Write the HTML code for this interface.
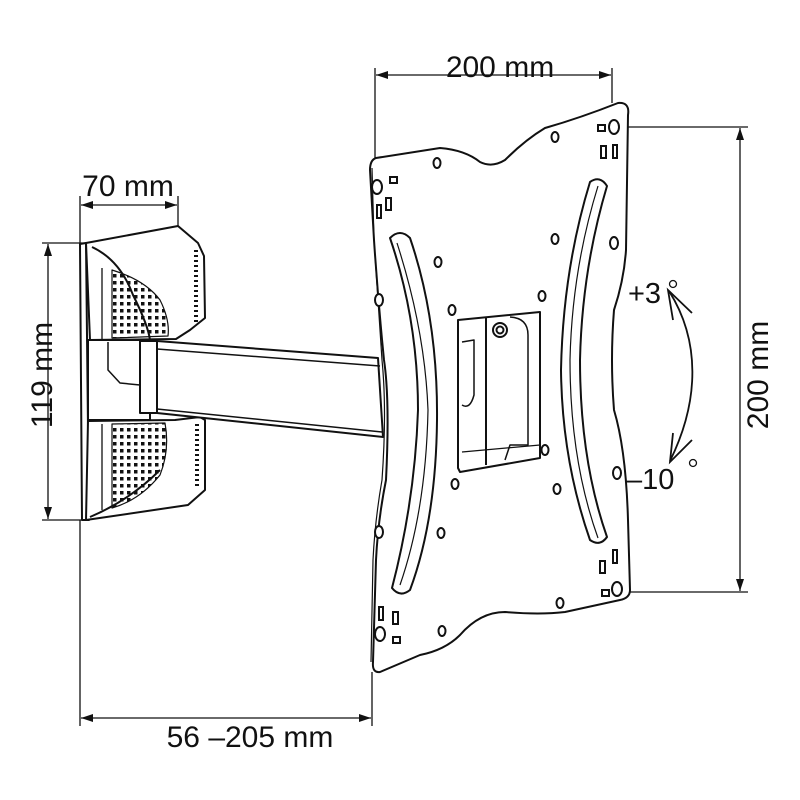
<!DOCTYPE html>
<html><head><style>
html,body{margin:0;padding:0;background:#fff;}
svg{display:block;}
text{font-family:"Liberation Sans",Arial,sans-serif;fill:#111;}
</style></head><body>
<svg width="800" height="800" viewBox="0 0 800 800" xmlns="http://www.w3.org/2000/svg">
<defs>
<pattern id="dots" width="7" height="7" patternUnits="userSpaceOnUse">
<rect x="1" y="1" width="3.5" height="3.5" fill="#111"/>
</pattern>
<marker id="ah" viewBox="0 0 12 10" refX="12" refY="5" markerWidth="12" markerHeight="10" orient="auto-start-reverse" markerUnits="userSpaceOnUse">
<path d="M0,1 L12,5 L0,9 z" fill="#111"/>
</marker>
</defs>
<g stroke="#111" stroke-width="1.3" fill="none">
<line x1="375" y1="68" x2="375" y2="160"/>
<line x1="612" y1="68" x2="612" y2="103"/>
<line x1="376" y1="75" x2="611" y2="75" marker-start="url(#ah)" marker-end="url(#ah)"/>
<line x1="80" y1="196" x2="80" y2="243"/>
<line x1="178" y1="196" x2="178" y2="226"/>
<line x1="81" y1="205" x2="177" y2="205" marker-start="url(#ah)" marker-end="url(#ah)"/>
<line x1="42" y1="243" x2="86" y2="243"/>
<line x1="42" y1="520" x2="86" y2="520"/>
<line x1="48" y1="244" x2="48" y2="519" marker-start="url(#ah)" marker-end="url(#ah)"/>
<line x1="622" y1="127" x2="748" y2="127"/>
<line x1="622" y1="592" x2="748" y2="592"/>
<line x1="740" y1="128" x2="740" y2="591" marker-start="url(#ah)" marker-end="url(#ah)"/>
<line x1="80" y1="520" x2="80" y2="726"/>
<line x1="372" y1="672" x2="372" y2="726"/>
<line x1="81" y1="718" x2="371" y2="718" marker-start="url(#ah)" marker-end="url(#ah)"/>
<g stroke-width="1.8">
<path d="M669,291 C700,340 700,400 670,461"/>
<path d="M673,320 L668,290 L692,313"/>
<path d="M673,433 L670,462 L692,440"/>
</g>
</g>

<g stroke="#111" stroke-width="2" fill="#fff" stroke-linejoin="round">
<path d="M80,244 L86,243 L89,520 L82,520 Z"/>
<path d="M86,243 L178,226 L198,243 L204,256 L205,318 L190,330 L176,339 L90,340 Z"/>
<path d="M92,247 Q120,260 133,295 Q148,325 150,340" fill="none"/>
<path d="M112,270 Q145,280 160,300 Q170,320 168,336 L112,338 Z" fill="url(#dots)" stroke-width="1.2"/>
<line x1="102" y1="268" x2="102" y2="340" stroke-width="1.3"/>
<path d="M196,250 L196,325" stroke-width="4" stroke-dasharray="2 3"/>
<path d="M88,421 L175,420 L200,417 L205,420 L205,490 L188,505 L86,520 Z"/>
<path d="M112,424 L165,423 Q170,450 160,475 Q140,500 112,508 Z" fill="url(#dots)" stroke-width="1.2"/>
<line x1="102" y1="424" x2="102" y2="510" stroke-width="1.3"/>
<path d="M197,424 L197,488" stroke-width="4" stroke-dasharray="2 3"/>
<path d="M90,517 Q130,500 160,470" fill="none"/>
<path d="M88,340 L150,340 L150,420 L88,420 Z"/>
<path d="M108,342 L108,370 L120,383 L140,385" fill="none" stroke-width="1.5"/>
<path d="M140,341 L157,341 L378,358 L383,437 L157,413 L140,413 Z"/>
<line x1="140" y1="341" x2="140" y2="413"/>
<line x1="157" y1="341" x2="157" y2="413"/>
<line x1="157" y1="349" x2="380" y2="366" stroke-width="1.5"/>
<line x1="157" y1="409" x2="382" y2="432" stroke-width="1.5"/>
</g>

<g stroke="#111" stroke-width="2" fill="#fff" stroke-linejoin="round">
<path d="M376,158 L440,148 Q465,150 480,162 Q492,168 505,160 Q525,140 545,128 Q580,118 618,103 Q630,102 628,115 L626,250 Q624,280 614,310 Q610,360 614,410 Q626,450 628,520 L630,590 Q630,598 620,600 L565,612 Q540,615 505,612 Q480,612 460,635 Q445,650 420,655 L380,672 Q372,673 373,662 L376,560 Q378,520 386,480 Q390,400 384,360 Q378,300 374,240 L370,170 Q370,160 376,158 Z"/>
<path d="M372,168 L374,240 Q378,300 382,360 Q387,410 382,480 Q375,520 373,560 L371,662" fill="none" stroke-width="1.2"/>
<path d="M390,238 Q400,228 410,238 Q438,320 437,420 Q436,520 410,590 Q400,598 392,588 Q415,500 418,410 Q418,320 390,238 Z"/>
<path d="M397,243 Q425,330 428,410 Q426,510 400,585" fill="none" stroke-width="1.2"/>
<path d="M590,182 Q600,175 607,186 Q582,270 580,360 Q580,460 607,537 Q600,547 590,540 Q562,460 561,370 Q563,270 590,182 Z"/>
<path d="M598,186 Q572,270 570,360 Q570,460 598,538" fill="none" stroke-width="1.2"/>
<path d="M458,320 L540,312 L540,458 L460,472 L458,468 Z"/>
<path d="M486,318 L486,465" fill="none"/>
<path d="M510,317 Q528,318 528,335 L528,445 L510,445 L505,460" fill="none" stroke-width="1.5"/>
<path d="M462,342 L474,340 L474,395 Q470,410 462,405" fill="none" stroke-width="1.5"/>
<line x1="462" y1="452" x2="540" y2="445" stroke-width="1.3"/>
<circle cx="500" cy="330" r="7"/>
<circle cx="500" cy="330" r="3.5"/>
</g>
<g stroke="#111" stroke-width="2" fill="#fff">
<ellipse cx="377" cy="187" rx="5" ry="7"/>
<ellipse cx="614" cy="127" rx="5" ry="7"/>
<ellipse cx="380" cy="634" rx="5" ry="7"/>
<ellipse cx="617" cy="589" rx="5" ry="7"/>
<ellipse cx="379" cy="300" rx="4" ry="6"/>
<ellipse cx="379" cy="532" rx="4" ry="6"/>
<ellipse cx="614" cy="243" rx="4" ry="6"/>
<ellipse cx="617" cy="473" rx="4" ry="6"/>
<ellipse cx="437" cy="163" rx="3.5" ry="5"/>
<ellipse cx="555" cy="137" rx="3.5" ry="5"/>
<ellipse cx="555" cy="239" rx="3.5" ry="5"/>
<ellipse cx="438" cy="262" rx="3.5" ry="5"/>
<ellipse cx="452" cy="310" rx="3.5" ry="5"/>
<ellipse cx="542" cy="296" rx="3.5" ry="5"/>
<ellipse cx="545" cy="450" rx="3.5" ry="5"/>
<ellipse cx="455" cy="484" rx="3.5" ry="5"/>
<ellipse cx="557" cy="489" rx="3.5" ry="5"/>
<ellipse cx="441" cy="533" rx="3.5" ry="5"/>
<ellipse cx="560" cy="603" rx="3.5" ry="5"/>
<ellipse cx="442" cy="631" rx="3.5" ry="5"/>
<rect x="390" y="177" width="7" height="6"/>
<rect x="386" y="198" width="5" height="12"/>
<rect x="377" y="205" width="4" height="13"/>
<rect x="598" y="125" width="7" height="6"/>
<rect x="601" y="146" width="5" height="12"/>
<rect x="613" y="145" width="4" height="13"/>
<rect x="600" y="561" width="5" height="12"/>
<rect x="613" y="550" width="4" height="13"/>
<rect x="602" y="590" width="7" height="6"/>
<rect x="379" y="607" width="4" height="13"/>
<rect x="393" y="612" width="5" height="12"/>
<rect x="393" y="637" width="7" height="6"/>
</g>
<g stroke="#111" stroke-width="1.3" fill="none">
<circle cx="673" cy="284" r="3.5"/>
<circle cx="693" cy="463" r="3.5"/>
</g>

<text x="500" y="77" font-size="30" text-anchor="middle">200 mm</text>
<text x="128" y="196" font-size="30" text-anchor="middle">70 mm</text>
<text x="0" y="0" font-size="30" text-anchor="middle" transform="translate(52,375) rotate(-90)">119 mm</text>
<text x="0" y="0" font-size="30" text-anchor="middle" transform="translate(768,375) rotate(-90)">200 mm</text>
<text x="250" y="747" font-size="30" text-anchor="middle">56 –205 mm</text>
<text x="628" y="303" font-size="29">+3</text>
<text x="626" y="489" font-size="29">–10</text>
</svg>
</body></html>
